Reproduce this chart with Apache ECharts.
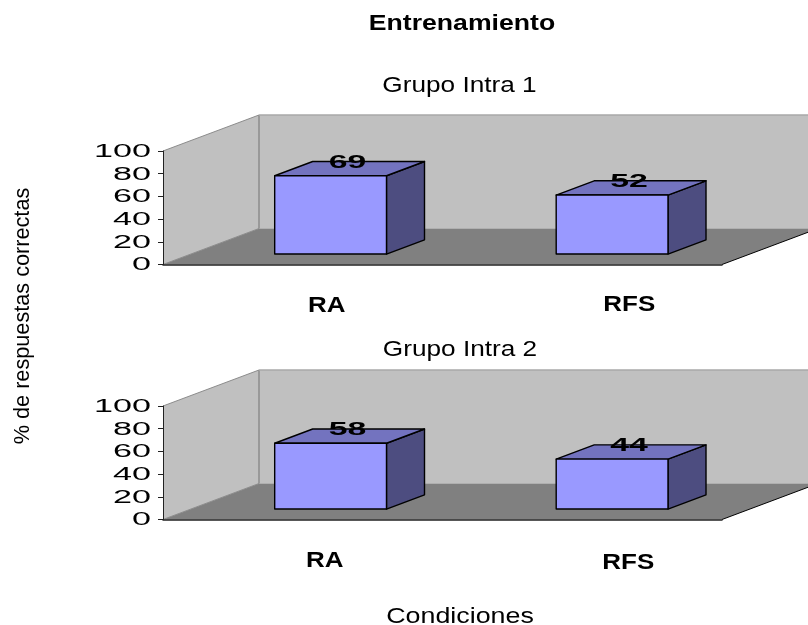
<!DOCTYPE html>
<html>
<head>
<meta charset="utf-8">
<style>html,body{margin:0;padding:0;background:#fff}#chart{width:808px;height:625px}</style>
<script src="https://cdn.jsdelivr.net/npm/echarts@6/dist/echarts.min.js"></script>
</head>
<body>
<div id="chart"></div>
<script>
// Chart data
const categories = ['RA', 'RFS'];
const intra1Values = [69, 52];
const intra2Values = [58, 44];
const valueTicks = [0, 20, 40, 60, 80, 100];
const chartTitle = 'Entrenamiento';
const intra1Title = 'Grupo Intra 1';
const intra2Title = 'Grupo Intra 2';
const yAxisTitle = '% de respuestas correctas';
const xAxisTitle = 'Condiciones';

// Oblique projection used for the pseudo-3D box look
const DEPTH_X = 96, DEPTH_Y = -36;
const BAR_NEAR = 0.29, BAR_FAR = 0.686, BAR_WIDTH = 0.4;
const BAR_NUDGE = [0, 2];
const FONT = '"Liberation Sans", Arial, sans-serif';

function stretchedText(x, y, text, font, scaleX, align) {
  return {
    type: 'text', x, y, scaleX, scaleY: 1,
    style: { x: 0, y: 0, text, font, fill: '#000', align: align || 'center', verticalAlign: 'middle' }
  };
}

function poly(points, fill, stroke, lineWidth) {
  return { type: 'polygon', shape: { points },
    style: { fill, stroke: stroke || 'none', lineWidth: lineWidth || 1, lineJoin: 'round' } };
}
function line(a, b, stroke, lineWidth) {
  return { type: 'line', shape: { x1: a[0], y1: a[1], x2: b[0], y2: b[1] },
    style: { stroke, lineWidth: lineWidth || 1 } };
}

// Side wall, back wall and floor of the plot box
function renderRoom(params, api) {
  const cs = params.coordSys;
  const l = cs.x, r = cs.x + cs.width, top = cs.y, bot = cs.y + cs.height;
  const dx = DEPTH_X, dy = DEPTH_Y;
  return { type: 'group', children: [
    poly([[l + dx, top + dy], [r + dx, top + dy], [r + dx, bot + dy], [l + dx, bot + dy]], '#C0C0C0'),
    poly([[l, bot], [l, top], [l + dx, top + dy], [l + dx, bot + dy]], '#C0C0C0'),
    poly([[l, bot], [r, bot], [r + dx, bot + dy], [l + dx, bot + dy]], '#808080'),
    line([l, top], [l + dx, top + dy], '#8c8c8c', 1),
    line([l + dx, top + dy], [l + dx, bot + dy], '#8c8c8c', 1.5),
    line([l + dx, top + dy], [r + dx, top + dy], '#a8a8a8', 1.5),
    line([l, bot], [l + dx, bot + dy], '#8c8c8c', 1),
    line([r, bot], [r + dx, bot + dy], '#000', 1)
  ] };
}

// One box per category, placed through the grid's own scales
function renderBox(params, api) {
  const idx = api.value(0), val = api.value(1);
  const top = api.coord([idx, val]), base = api.coord([idx, 0]);
  const band = api.size([1, 0])[0];
  const half = band * BAR_WIDTH / 2;
  const ox = top[0] + DEPTH_X * BAR_NEAR + BAR_NUDGE[idx], oy = DEPTH_Y * BAR_NEAR;
  const ddx = DEPTH_X * (BAR_FAR - BAR_NEAR), ddy = DEPTH_Y * (BAR_FAR - BAR_NEAR);
  const x0 = ox - half, x1 = ox + half, yt = top[1] + oy, yb = base[1] + oy;
  const edge = '#000';
  return { type: 'group', children: [
    poly([[x1, yt], [x1 + ddx, yt + ddy], [x1 + ddx, yb + ddy], [x1, yb]], '#4D4D80', edge, 1.4),
    poly([[x0, yt], [x0 + ddx, yt + ddy], [x1 + ddx, yt + ddy], [x1, yt]], '#7373BF', edge, 1.4),
    poly([[x0, yt], [x1, yt], [x1, yb], [x0, yb]], '#9999FF', edge, 1.4),
    stretchedText(ox + 17, yt + ddy + 1, String(val), 'bold 19px ' + FONT, 1.78)
  ] };
}

// Stretched numeric labels beside the value axis
function renderTick(params, api) {
  const y = api.coord([0, api.value(0)])[1];
  return stretchedText(params.coordSys.x - 12, y + 1, String(api.value(0)), '17.5px ' + FONT, 1.95, 'right');
}

function categoryLabelRenderer(shiftX, shiftY) {
  return function (params, api) {
    const idx = api.value(0);
    const p = api.coord([idx, 0]);
    return stretchedText(p[0] + shiftX[idx], p[1] + shiftY[idx], categories[idx], 'bold 22px ' + FONT, 1.18);
  };
}

function panelSeries(i, values, shiftX, shiftY) {
  const common = { type: 'custom', coordinateSystem: 'cartesian2d', xAxisIndex: i, yAxisIndex: i, silent: true, clip: false };
  return [
    Object.assign({}, common, { name: 'room' + i, z: 1, renderItem: renderRoom, data: [[0, 0]] }),
    Object.assign({}, common, { name: 'boxes' + i, z: 2, renderItem: renderBox,
      encode: { x: 0, y: 1 }, data: values.map((v, k) => [k, v]) }),
    Object.assign({}, common, { name: 'ticks' + i, z: 3, renderItem: renderTick,
      encode: { y: 0 }, data: valueTicks.map(v => [v]) }),
    Object.assign({}, common, { name: 'cats' + i, z: 3, renderItem: categoryLabelRenderer(shiftX, shiftY),
      encode: { x: 0 }, data: categories.map((c, k) => [k]) })
  ];
}

function sideTitle(text, x, y, font, scaleX, rotation) {
  return { type: 'text', x, y, scaleX, rotation: rotation || 0, z: 10,
    style: { text, font, fill: '#000', align: 'center', verticalAlign: 'middle' } };
}

const gridBase = { left: 163, width: 559, height: 113.5 };
const chart = echarts.init(document.getElementById('chart'), null, { renderer: 'canvas' });
const xAxisBase = { type: 'category', data: categories, axisTick: { show: false }, axisLabel: { show: false },
  axisLine: { show: true, lineStyle: { color: '#222', width: 1.5 } }, z: 5 };
const yAxisBase = { type: 'value', min: 0, max: 100, interval: 20, splitLine: { show: false }, axisLabel: { show: false },
  axisLine: { show: true, lineStyle: { color: '#222', width: 1 } },
  axisTick: { show: true, length: 5, lineStyle: { color: '#222' } }, z: 5 };

chart.setOption({
  animation: false,
  backgroundColor: '#fff',
  grid: [Object.assign({ top: 151 }, gridBase), Object.assign({ top: 406 }, gridBase)],
  xAxis: [Object.assign({ gridIndex: 0 }, xAxisBase), Object.assign({ gridIndex: 1 }, xAxisBase)],
  yAxis: [Object.assign({ gridIndex: 0 }, yAxisBase), Object.assign({ gridIndex: 1 }, yAxisBase)],
  series: [
    ...panelSeries(0, intra1Values, [24, 47], [41, 40]),
    ...panelSeries(1, intra2Values, [22, 46], [41.5, 43.5])
  ],
  graphic: [
    sideTitle(chartTitle, 462, 24, 'bold 22px ' + FONT, 1.21),
    sideTitle(intra1Title, 459.5, 85.5, '22px ' + FONT, 1.19),
    sideTitle(intra2Title, 460, 349.5, '22px ' + FONT, 1.19),
    sideTitle(xAxisTitle, 460, 616.5, '22px ' + FONT, 1.22),
    sideTitle(yAxisTitle, 22.5, 316, '22px ' + FONT, 0.985, Math.PI / 2)
  ]
});
</script>
</body>
</html>
